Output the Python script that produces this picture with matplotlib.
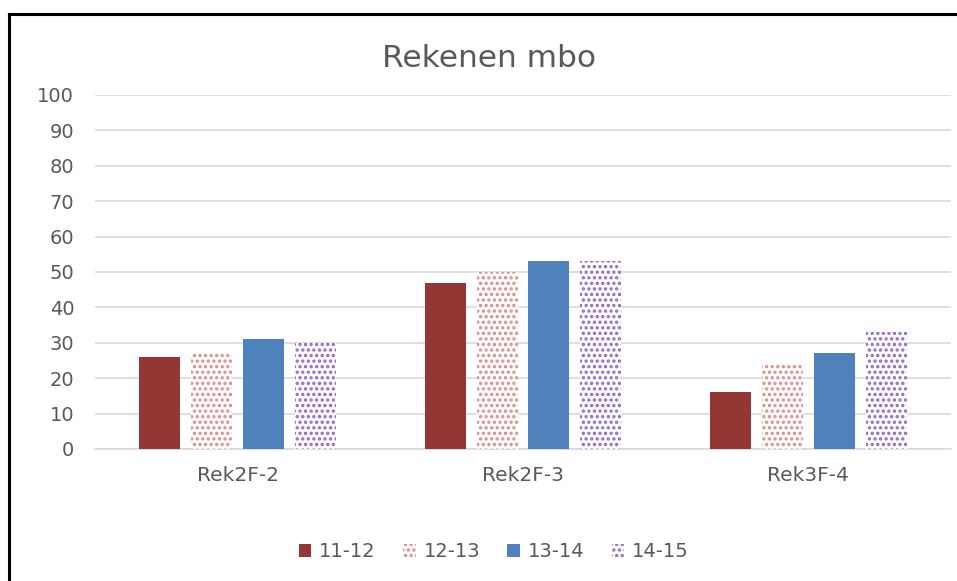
import numpy as np
import matplotlib
matplotlib.use("Agg")
import matplotlib.pyplot as plt
from matplotlib.lines import Line2D

categories = ["Rek2F-2", "Rek2F-3", "Rek3F-4"]
series = ["11-12", "12-13", "13-14", "14-15"]
v1112 = [26, 47, 16]
v1213 = [27, 50, 24]
v1314 = [31, 53, 27]
v1415 = [30, 53, 33]
values = [v1112, v1213, v1314, v1415]
yticks = [0, 10, 20, 30, 40, 50, 60, 70, 80, 90, 100]

# face, hatch colour, hatch
styles = [
    ("#943634", "#943634", None),
    ("white", "#DA8C8A", "..."),
    ("#4F81BD", "#4F81BD", None),
    ("white", "#9266C4", "..."),
]

plt.rcParams["font.family"] = "DejaVu Sans"
plt.rcParams["hatch.linewidth"] = 1.6

fig = plt.figure(figsize=(9.57, 5.81), dpi=100)
ax = fig.add_axes([0.0993, 0.2272, 0.8944, 0.6093])

x = np.arange(len(categories))
w = 0.1437
step = 0.182
for i, (name, vals) in enumerate(zip(series, values)):
    face, col, hatch = styles[i]
    off = (i - 1.5) * step
    ax.bar(x + off, vals, w, label=name, color=face, edgecolor=col,
           hatch=hatch, linewidth=0, zorder=3)

ax.set_xlim(-0.5, 2.5)
ax.set_ylim(0, 100)
ax.set_yticks(yticks)
ax.set_xticks(x)
ax.set_xticklabels(categories)
ax.grid(axis="y", color="#D9D9D9", linewidth=1.2, zorder=0)
for s in ["top", "right", "left"]:
    ax.spines[s].set_visible(False)
ax.spines["bottom"].set_color("#D9D9D9")
ax.spines["bottom"].set_linewidth(1.2)
ax.tick_params(axis="both", length=0, colors="#595959")
ax.tick_params(axis="y", pad=15, labelsize=14)
ax.tick_params(axis="x", pad=12, labelsize=14.5)

fig.text(0.511, 0.899, "Rekenen mbo", ha="center", va="center",
         fontsize=22.5, color="#595959")

fig.legend(loc="center", bbox_to_anchor=(0.516, 0.051), ncol=4,
           frameon=False, fontsize=14, handlelength=0.65, handleheight=0.65,
           handletextpad=0.4, columnspacing=1.4, labelcolor="#595959")

# chart border (only top and left visible in the crop)
fig.add_artist(Line2D([0.0094, 1.0], [0.9759, 0.9759], color="black", linewidth=2.2,
                      transform=fig.transFigure))
fig.add_artist(Line2D([0.0094, 0.0094], [0.0, 0.9759], color="black", linewidth=2.2,
                      transform=fig.transFigure))

fig.savefig("out.png", dpi=100)
